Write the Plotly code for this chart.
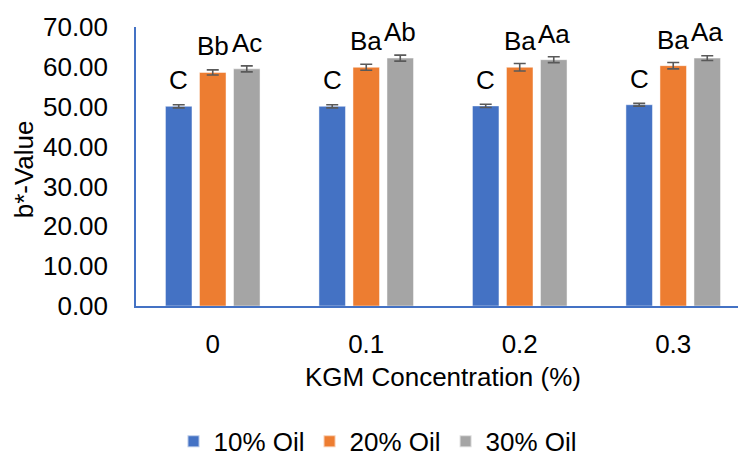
import plotly.graph_objects as go

categories = ["0", "0.1", "0.2", "0.3"]
series_names = ["10% Oil", "20% Oil", "30% Oil"]
oil10 = [50.1, 50.1, 50.2, 50.5]
oil20 = [58.6, 59.9, 59.9, 60.3]
oil30 = [59.5, 62.2, 61.8, 62.2]
err10 = [0.4, 0.4, 0.4, 0.35]
err20 = [0.65, 0.75, 0.95, 0.8]
err30 = [0.75, 0.75, 0.75, 0.6]
lab10 = ["C", "C", "C", "C"]
lab20 = ["Bb", "Ba", "Ba", "Ba"]
lab30 = ["Ac", "Ab", "Aa", "Aa"]

colors = ["#4472C4", "#ED7D31", "#A5A5A5"]
FONT = "Liberation Sans, Arial, sans-serif"
FS = 26

values = [oil10, oil20, oil30]
errors = [err10, err20, err30]
labels = [lab10, lab20, lab30]

fig = go.Figure()
for name, vals, errs, col in zip(series_names, values, errors, colors):
    fig.add_trace(go.Bar(
        name=name, x=categories, y=vals,
        marker=dict(color=col, line=dict(color="rgba(255,255,255,0.6)", width=0.8)),
        error_y=dict(type="data", array=errs, visible=True, color="#595959",
                     thickness=1.6, width=6),
    ))

n = len(series_names)
slot = (1 - 0.335) / n
annotations = []
for si, (vals, labs) in enumerate(zip(values, labels)):
    for ci, (v, lab) in enumerate(zip(vals, labs)):
        xpos = ci + (si - (n - 1) / 2) * slot
        annotations.append(dict(
            x=xpos, y=v, xref="x", yref="y", text=lab, showarrow=False,
            yshift=26, yanchor="middle", xanchor="center",
            font=dict(family=FONT, size=FS, color="black"),
        ))

annotations.append(dict(
    x=0.51, y=-0.254, xref="paper", yref="paper", text="KGM Concentration (%)",
    showarrow=False, xanchor="center", yanchor="middle",
    font=dict(family=FONT, size=FS, color="black"),
))
annotations.append(dict(
    x=-0.186, y=0.49, xref="paper", yref="paper", text="b*-Value",
    showarrow=False, xanchor="center", yanchor="middle", textangle=-90,
    font=dict(family=FONT, size=FS, color="black"),
))

fig.update_layout(
    width=738, height=456,
    margin=dict(l=136, r=0, t=27, b=150, autoexpand=False),
    paper_bgcolor="white", plot_bgcolor="white",
    barmode="group", bargap=0.335, bargroupgap=0.22,
    font=dict(family=FONT, size=FS, color="black"),
    showlegend=True,
    legend=dict(orientation="h", x=0.402, y=-0.485, xanchor="center", yanchor="middle",
                font=dict(family=FONT, size=FS, color="black"),
                itemsizing="constant", bgcolor="rgba(0,0,0,0)"),
    annotations=annotations,
)
fig.update_xaxes(
    type="category", range=[-0.5, 3.422], showline=True, linecolor="#4472C4",
    linewidth=1.5, showgrid=False, ticks="", ticklabelstandoff=14,
    tickfont=dict(family=FONT, size=FS, color="black"),
)
fig.update_yaxes(
    range=[0, 70], tickvals=[0, 10, 20, 30, 40, 50, 60, 70],
    ticktext=["0.00", "10.00", "20.00", "30.00", "40.00", "50.00", "60.00", "70.00"],
    showline=True, linecolor="#4472C4", linewidth=1.5, showgrid=False,
    zeroline=False, ticks="", ticklabelstandoff=21,
    tickfont=dict(family=FONT, size=FS, color="black"),
)

fig.write_html("out.html")
